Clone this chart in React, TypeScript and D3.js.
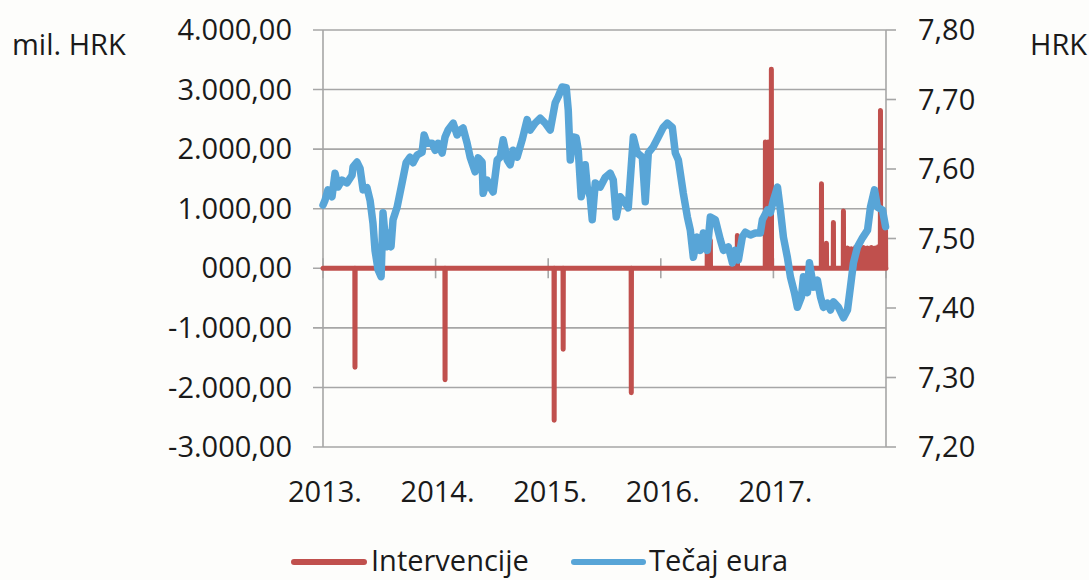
import React from "react";
import * as d3 from "d3";

// ---- data ----
const yearTicks = [2013, 2014, 2015, 2016, 2017];
const yearLabels = ["2013.", "2014.", "2015.", "2016.", "2017."];
const leftTicks = [4000, 3000, 2000, 1000, 0, -1000, -2000, -3000];
const leftTickLabels = ["4.000,00", "3.000,00", "2.000,00", "1.000,00", "000,00", "-1.000,00", "-2.000,00", "-3.000,00"];
const rightTicks = [7.8, 7.7, 7.6, 7.5, 7.4, 7.3, 7.2];
const rightTickLabels = ["7,80", "7,70", "7,60", "7,50", "7,40", "7,30", "7,20"];

// Intervencije (mil. HRK), non-zero days; other days are 0
const intervTimes = [
  2013.284, 2014.084, 2015.053, 2015.133, 2015.738, 2016.413, 2016.44, 2016.68, 2016.929, 2016.955, 2016.982,
  2017.427, 2017.471, 2017.533, 2017.622, 2017.658, 2017.693, 2017.729, 2017.764, 2017.8,
  2017.836, 2017.871, 2017.907, 2017.933, 2017.951, 2017.978, 2017.996,
];
const intervValues = [
  -1660, -1870, -2550, -1360, -2090, 470, 470, 550, 2120, 2120, 3340,
  1420, 420, 770, 960, 340, 330, 350, 340, 350,
  340, 350, 340, 360, 2650, 520, 640,
];

// Tečaj eura (HRK)
const rateTimes = [
  2013.0, 2013.018, 2013.044, 2013.08, 2013.107, 2013.133, 2013.169, 2013.213, 2013.258, 2013.267,
  2013.302, 2013.329, 2013.356, 2013.391, 2013.418, 2013.444, 2013.462, 2013.489, 2013.516, 2013.533,
  2013.56, 2013.578, 2013.604, 2013.622, 2013.658, 2013.702, 2013.738, 2013.773, 2013.8, 2013.836,
  2013.88, 2013.898, 2013.924, 2013.969, 2013.996, 2014.022, 2014.058, 2014.084, 2014.111, 2014.156,
  2014.191, 2014.218, 2014.244, 2014.28, 2014.307, 2014.351, 2014.378, 2014.413, 2014.422, 2014.458,
  2014.484, 2014.511, 2014.547, 2014.573, 2014.6, 2014.636, 2014.662, 2014.689, 2014.724, 2014.769,
  2014.796, 2014.813, 2014.84, 2014.884, 2014.929, 2014.973, 2015.018, 2015.062, 2015.089, 2015.124,
  2015.16, 2015.178, 2015.196, 2015.222, 2015.249, 2015.267, 2015.293, 2015.329, 2015.347, 2015.373,
  2015.391, 2015.418, 2015.462, 2015.507, 2015.551, 2015.578, 2015.604, 2015.64, 2015.684, 2015.711,
  2015.756, 2015.791, 2015.836, 2015.862, 2015.889, 2015.933, 2015.978, 2016.022, 2016.058, 2016.102,
  2016.129, 2016.156, 2016.2, 2016.236, 2016.262, 2016.289, 2016.324, 2016.351, 2016.378, 2016.413,
  2016.44, 2016.484, 2016.529, 2016.556, 2016.6, 2016.636, 2016.662, 2016.689, 2016.724, 2016.751,
  2016.796, 2016.84, 2016.884, 2016.902, 2016.947, 2016.973, 2017.0, 2017.036, 2017.062, 2017.089,
  2017.124, 2017.151, 2017.187, 2017.213, 2017.249, 2017.267, 2017.302, 2017.32, 2017.356, 2017.391,
  2017.418, 2017.444, 2017.48, 2017.507, 2017.533, 2017.578, 2017.622, 2017.658, 2017.684, 2017.711,
  2017.747, 2017.791, 2017.836, 2017.862, 2017.898, 2017.924, 2017.969, 2017.996,
];
const rateValues = [
  7.548, 7.555, 7.57, 7.56, 7.594, 7.574, 7.584, 7.58, 7.591, 7.603,
  7.61, 7.601, 7.57, 7.573, 7.555, 7.522, 7.483, 7.455, 7.445, 7.537,
  7.488, 7.508, 7.488, 7.527, 7.545, 7.58, 7.609, 7.617, 7.609, 7.62,
  7.624, 7.649, 7.637, 7.637, 7.627, 7.637, 7.623, 7.646, 7.656, 7.666,
  7.649, 7.656, 7.659, 7.637, 7.617, 7.596, 7.616, 7.61, 7.565, 7.584,
  7.574, 7.567, 7.613, 7.617, 7.642, 7.613, 7.606, 7.627, 7.617, 7.642,
  7.66, 7.671, 7.656, 7.666, 7.673, 7.666, 7.656, 7.695, 7.704, 7.718,
  7.717, 7.685, 7.613, 7.646, 7.645, 7.627, 7.56, 7.606, 7.574, 7.56,
  7.527, 7.58, 7.574, 7.588, 7.594, 7.584, 7.531, 7.56, 7.551, 7.544,
  7.646, 7.623, 7.617, 7.553, 7.623, 7.632, 7.646, 7.66, 7.666, 7.66,
  7.623, 7.613, 7.565, 7.531, 7.512, 7.473, 7.502, 7.483, 7.508, 7.483,
  7.531, 7.527, 7.498, 7.483, 7.488, 7.465, 7.483, 7.469, 7.502, 7.509,
  7.505, 7.508, 7.508, 7.527, 7.541, 7.537, 7.555, 7.574, 7.541, 7.502,
  7.473, 7.445, 7.422, 7.401, 7.416, 7.445, 7.422, 7.465, 7.43, 7.44,
  7.416, 7.401, 7.407, 7.397, 7.409, 7.401, 7.386, 7.397, 7.43, 7.465,
  7.488, 7.501, 7.512, 7.545, 7.57, 7.545, 7.541, 7.517,
];

const seriesNames = ["Intervencije", "Tečaj eura"];
const seriesColors = ["#c0504d", "#58a5d7"];

export default function App() {
  const W = 1089, H = 580;
  const x0 = 323, x1 = 886, yTop = 30, yBot = 447;
  const font = "'Open Sans', 'Liberation Sans', sans-serif";
  const fs = 29;
  const grid = "#a6a6a6";

  const x = d3.scaleLinear().domain([2013, 2018]).range([x0, x1]);
  const yL = d3.scaleLinear().domain([-3000, 4000]).range([yBot, yTop]);
  const yR = d3.scaleLinear().domain([7.2, 7.8]).range([yBot, yTop]);

  // intervention line: zero baseline with spikes
  const eps = 0.0015;
  const ipts: [number, number][] = [[2013, 0]];
  intervTimes.forEach((t, i) => {
    ipts.push([t - eps, 0], [t, intervValues[i]], [t + eps, 0]);
  });
  ipts.push([2018, 0]);
  const redLine = d3.line<[number, number]>().x((d) => x(d[0])).y((d) => yL(d[1]))(ipts) || "";

  const rpts: [number, number][] = rateTimes.map((t, i) => [t, rateValues[i]]);
  const blueLine = d3.line<[number, number]>().x((d) => x(d[0])).y((d) => yR(d[1]))(rpts) || "";

  return (
    <svg width={W} height={H} style={{ position: "absolute", left: 0, top: 0, background: "#fdfdfb" }} fontFamily={font}>
      <rect x={0} y={0} width={W} height={H} fill="#fdfdfb" />
      {/* gridlines & left ticks */}
      {leftTicks.map((v, i) => (
        <g key={"g" + v}>
          <line x1={x0 - 10} x2={x1} y1={yL(v)} y2={yL(v)} stroke={grid} strokeWidth={1.6} />
          <text x={292} y={yL(v)} dy="0.35em" textAnchor="end" fontSize={fs} fill="#1a1a1a">
            {leftTickLabels[i]}
          </text>
        </g>
      ))}
      {/* left axis */}
      <line x1={x0} x2={x0} y1={yTop} y2={yBot} stroke={grid} strokeWidth={1.6} />
      {/* right axis */}
      <line x1={x1} x2={x1} y1={yTop} y2={yBot} stroke={grid} strokeWidth={1.6} />
      {rightTicks.map((v, i) => (
        <g key={"r" + v}>
          <line x1={x1} x2={x1 + 10} y1={yR(v)} y2={yR(v)} stroke={grid} strokeWidth={1.6} />
          <text x={918} y={yR(v)} dy="0.35em" textAnchor="start" fontSize={fs} fill="#1a1a1a">
            {rightTickLabels[i]}
          </text>
        </g>
      ))}
      {/* x ticks crossing zero line */}
      {yearTicks.concat([2018]).map((t) => (
        <line key={"xt" + t} x1={x(t)} x2={x(t)} y1={yL(0) - 10} y2={yL(0) + 10} stroke={grid} strokeWidth={1.6} />
      ))}
      {yearTicks.map((t, i) => (
        <text key={"xl" + t} x={x(t) + 2} y={502} textAnchor="middle" fontSize={fs} fill="#1a1a1a">
          {yearLabels[i]}
        </text>
      ))}
      {/* series */}
      <path d={redLine} fill="none" stroke={seriesColors[0]} strokeWidth={5} strokeLinejoin="round" strokeLinecap="round" />
      <path d={blueLine} fill="none" stroke={seriesColors[1]} strokeWidth={7.5} strokeLinejoin="round" strokeLinecap="round" />
      {/* axis titles */}
      <text x={12} y={55} fontSize={fs} fill="#1a1a1a">mil. HRK</text>
      <text x={1030} y={55} fontSize={fs} fill="#1a1a1a">HRK</text>
      {/* legend */}
      <line x1={294} x2={364} y1={562} y2={562} stroke={seriesColors[0]} strokeWidth={6} strokeLinecap="round" />
      <text x={371} y={571} fontSize={fs} fill="#1a1a1a">{seriesNames[0]}</text>
      <line x1={574} x2={643} y1={562} y2={562} stroke={seriesColors[1]} strokeWidth={6} strokeLinecap="round" />
      <text x={649} y={571} fontSize={fs} fill="#1a1a1a">{seriesNames[1]}</text>
    </svg>
  );
}
